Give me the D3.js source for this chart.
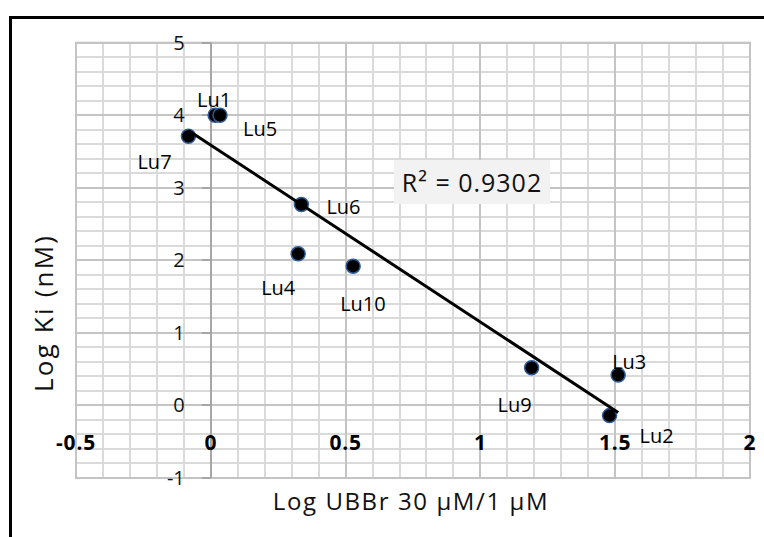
<!DOCTYPE html>
<html>
<head>
<meta charset="utf-8">
<script src="https://cdn.jsdelivr.net/npm/d3@7"></script>
<style>
  body { margin: 0; background: #fff; }
  text { font-family: 'Open Sans', sans-serif; }
</style>
</head>
<body>
<div id="chart"></div>
<script>
// Data
const compounds = ["Lu1", "Lu5", "Lu7", "Lu6", "Lu4", "Lu10", "Lu9", "Lu3", "Lu2"];
const logUBBr = [0.016, 0.034, -0.083, 0.336, 0.324, 0.528, 1.19, 1.511, 1.479];
const logKi = [4.0, 4.0, 3.71, 2.77, 2.09, 1.92, 0.52, 0.42, -0.14];
const xTicks = [-0.5, 0, 0.5, 1, 1.5, 2];
const yTicks = [-1, 0, 1, 2, 3, 4, 5];
const r2Label = "R\u00B2 = 0.9302";

// label placement, pixels from the point (text start, baseline)
const labelOffsets = {
  Lu1: [-18, -8], Lu5: [23, 21], Lu7: [-51, 33], Lu6: [25, 10], Lu4: [-37, 41],
  Lu10: [-13, 45], Lu9: [-34, 44], Lu3: [-6, -6], Lu2: [30, 27]
};

let width = 764, height = 537;
let margin = { top: 42.7, bottom: 478, left: 76, right: 750 };

let svg = d3.select('#chart')
  .append('svg')
  .attr('width', width)
  .attr('height', height);

// outer frame (only top and left edges visible)
svg.append('path')
  .attr('d', `M10.5,${height} L10.5,17.5 L${width},17.5`)
  .attr('fill', 'none')
  .attr('stroke', '#000')
  .attr('stroke-width', 3);

let x = d3.scaleLinear().domain([-0.5, 2]).range([margin.left, margin.right]);
let y = d3.scaleLinear().domain([-1, 5]).range([margin.bottom, margin.top]);

const snap = v => Math.round(v);

// minor gridlines
const xMinor = d3.range(-5, 21).map(i => i / 10);
const yMinor = d3.range(-5, 26).map(i => i / 5);
svg.append('g').selectAll('line').data(xMinor).join('line')
  .attr('x1', d => snap(x(d))).attr('x2', d => snap(x(d)))
  .attr('y1', margin.top).attr('y2', margin.bottom)
  .attr('stroke', '#dadada').attr('stroke-width', 2);
svg.append('g').selectAll('line').data(yMinor).join('line')
  .attr('y1', d => snap(y(d))).attr('y2', d => snap(y(d)))
  .attr('x1', margin.left).attr('x2', margin.right)
  .attr('stroke', '#dadada').attr('stroke-width', 2);

// major gridlines
svg.append('g').selectAll('line').data(xTicks).join('line')
  .attr('x1', d => snap(x(d))).attr('x2', d => snap(x(d)))
  .attr('y1', margin.top).attr('y2', margin.bottom)
  .attr('stroke', '#c4c4c4').attr('stroke-width', 2);
svg.append('g').selectAll('line').data(yTicks).join('line')
  .attr('y1', d => snap(y(d))).attr('y2', d => snap(y(d)))
  .attr('x1', margin.left).attr('x2', margin.right)
  .attr('stroke', '#c4c4c4').attr('stroke-width', 2);

// plot border
svg.append('rect')
  .attr('x', margin.left).attr('y', margin.top)
  .attr('width', margin.right - margin.left)
  .attr('height', margin.bottom - margin.top)
  .attr('fill', 'none').attr('stroke', '#c4c4c4').attr('stroke-width', 2);

// y axis at x = 0 with small outside ticks
svg.append('line')
  .attr('x1', snap(x(0))).attr('x2', snap(x(0)))
  .attr('y1', margin.top).attr('y2', margin.bottom)
  .attr('stroke', '#a6a6a6').attr('stroke-width', 2);
svg.append('g').selectAll('line').data(yTicks).join('line')
  .attr('x1', x(0) - 9).attr('x2', x(0))
  .attr('y1', d => snap(y(d))).attr('y2', d => snap(y(d)))
  .attr('stroke', '#a6a6a6').attr('stroke-width', 2);

// y tick labels
svg.append('g').selectAll('text').data(yTicks).join('text')
  .attr('x', x(0) - 26)
  .attr('y', d => y(d) + 7)
  .attr('text-anchor', 'end')
  .style('font-size', '20px')
  .style('fill', '#111')
  .text(d => d);

// x tick labels, bold, between 0 and -1
svg.append('g').selectAll('text').data(xTicks).join('text')
  .attr('x', d => x(d))
  .attr('y', y(-0.5) + 8)
  .attr('text-anchor', 'middle')
  .style('font-size', '21px')
  .style('font-weight', 'bold')
  .style('letter-spacing', '0.8px')
  .style('fill', '#000')
  .text(d => d);

// axis titles
svg.append('text')
  .attr('x', 411)
  .attr('y', 510)
  .attr('text-anchor', 'middle')
  .style('font-size', '24px')
  .style('letter-spacing', '1.6px')
  .style('fill', '#111')
  .text('Log UBBr 30 \u00B5M/1 \u00B5M');

svg.append('text')
  .attr('transform', 'translate(53, 313) rotate(-90)')
  .attr('text-anchor', 'middle')
  .style('font-size', '26px')
  .style('letter-spacing', '2.2px')
  .style('fill', '#111')
  .text('Log Ki (nM)');

// R squared box
svg.append('rect')
  .attr('x', 394).attr('y', 160)
  .attr('width', 156).attr('height', 44)
  .attr('fill', '#f2f2f2');
svg.append('text')
  .attr('x', 472).attr('y', 192)
  .attr('text-anchor', 'middle')
  .style('font-size', '25px')
  .style('letter-spacing', '1px')
  .style('fill', '#111')
  .text(r2Label);

// points
const points = compounds.map((c, i) => ({ name: c, x: logUBBr[i], y: logKi[i] }));

svg.append('g').selectAll('circle').data(points).join('circle')
  .attr('cx', d => x(d.x))
  .attr('cy', d => y(d.y))
  .attr('r', 7)
  .attr('fill', '#000')
  .attr('stroke', '#2f5d9a')
  .attr('stroke-width', 1.5);

// linear trendline over the data range
const mx = d3.mean(logUBBr), my = d3.mean(logKi);
const sxy = d3.sum(logUBBr, (v, i) => (v - mx) * (logKi[i] - my));
const sxx = d3.sum(logUBBr, v => (v - mx) * (v - mx));
const slope = sxy / sxx, intercept = my - slope * mx;
const xr = d3.extent(logUBBr);

svg.append('line')
  .attr('x1', x(xr[0])).attr('y1', y(intercept + slope * xr[0]))
  .attr('x2', x(xr[1])).attr('y2', y(intercept + slope * xr[1]))
  .attr('stroke', '#000')
  .attr('stroke-width', 3);

// point labels
svg.append('g').selectAll('text').data(points).join('text')
  .attr('x', d => x(d.x) + labelOffsets[d.name][0])
  .attr('y', d => y(d.y) + labelOffsets[d.name][1])
  .style('font-size', '20px')
  .style('fill', '#000')
  .text(d => d.name);
</script>
</body>
</html>
